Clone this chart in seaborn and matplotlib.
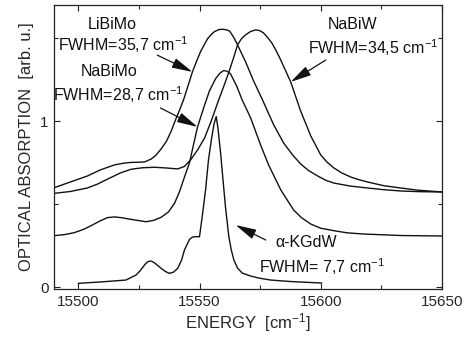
import matplotlib
matplotlib.use("Agg")
import matplotlib.pyplot as plt
import seaborn as sns
import pandas as pd
from matplotlib.ticker import MultipleLocator, FixedLocator

# ---- data ----
libimo_x = [15490.1, 15496.7, 15503.7, 15509.1, 15514.9, 15518.5, 15521.5, 15524.5, 15527.3,
            15530.0, 15532.0, 15534.0, 15536.4, 15538.3, 15540.1, 15541.8, 15543.4, 15545.3,
            15547.1, 15548.8, 15550.4, 15552.0, 15553.3, 15555.0, 15556.2, 15558.0, 15559.5,
            15561.0, 15562.4, 15564.0, 15565.7, 15567.3, 15569.0, 15572.3, 15576.0, 15580.6,
            15584.7, 15588.4, 15591.7, 15595.0, 15598.8, 15602.0, 15605.4, 15612.0, 15619.4,
            15626.0, 15633.1, 15641.0, 15650.4]
libimo_y = [0.600, 0.634, 0.670, 0.707, 0.737, 0.747, 0.752, 0.753, 0.755,
            0.772, 0.795, 0.830, 0.880, 0.940, 1.008, 1.068, 1.128, 1.215,
            1.298, 1.362, 1.418, 1.462, 1.496, 1.525, 1.540, 1.552, 1.554,
            1.551, 1.543, 1.508, 1.460, 1.410, 1.358, 1.243, 1.128, 0.978,
            0.869, 0.797, 0.743, 0.703, 0.670, 0.645, 0.628, 0.610, 0.598,
            0.588, 0.580, 0.576, 0.574]

nabiw_x = [15490.1, 15496.7, 15503.7, 15508.0, 15512.0, 15517.4, 15521.8, 15526.5, 15531.4,
           15536.0, 15541.0, 15543.8, 15546.3, 15549.2, 15552.1, 15555.0, 15557.9, 15560.0,
           15562.0, 15564.0, 15565.7, 15567.3, 15569.0, 15571.0, 15573.1, 15574.8, 15576.4,
           15578.0, 15579.8, 15581.6, 15583.5, 15587.6, 15591.7, 15595.9, 15600.0, 15602.5,
           15605.4, 15608.5, 15612.4, 15616.0, 15619.4, 15626.0, 15633.1, 15640.0, 15650.4]
nabiw_y = [0.566, 0.577, 0.598, 0.622, 0.651, 0.689, 0.711, 0.720, 0.723,
           0.719, 0.713, 0.728, 0.767, 0.827, 0.899, 1.008, 1.128, 1.210,
           1.291, 1.380, 1.460, 1.497, 1.520, 1.540, 1.550, 1.546, 1.532,
           1.506, 1.472, 1.425, 1.369, 1.237, 1.062, 0.911, 0.797, 0.755,
           0.719, 0.690, 0.664, 0.647, 0.634, 0.612, 0.598, 0.585, 0.574]

nabimo_x = [15490.1, 15494.5, 15498.3, 15502.0, 15505.0, 15509.0, 15512.1, 15515.0, 15518.0,
            15521.0, 15523.6, 15528.0, 15531.0, 15534.2, 15537.2, 15539.7, 15541.7, 15543.8,
            15545.9, 15547.5, 15549.2, 15551.7, 15554.1, 15556.6, 15558.3, 15559.9, 15561.3,
            15562.8, 15565.3, 15567.6, 15571.1, 15575.2, 15578.5, 15583.5, 15588.8, 15592.0,
            15595.9, 15600.0, 15606.2, 15611.0, 15617.8, 15633.1, 15650.4]
nabimo_y = [0.311, 0.318, 0.329, 0.348, 0.369, 0.400, 0.420, 0.424, 0.419,
            0.411, 0.405, 0.395, 0.403, 0.422, 0.454, 0.506, 0.574, 0.664,
            0.751, 0.857, 0.966, 1.080, 1.183, 1.255, 1.288, 1.305, 1.302,
            1.285, 1.213, 1.128, 1.020, 0.857, 0.737, 0.587, 0.466, 0.420,
            0.381, 0.356, 0.339, 0.328, 0.321, 0.312, 0.309]

kgdw_x = [15500.0, 15510.7, 15519.7, 15523.8, 15525.6, 15527.3, 15528.3, 15529.3, 15530.3,
          15531.4, 15534.2, 15536.0, 15537.6, 15539.3, 15541.0, 15542.6, 15543.8, 15545.9,
          15547.1, 15548.6, 15550.0, 15551.2, 15552.5, 15553.7, 15555.0, 15556.0, 15556.9,
          15557.6, 15558.7, 15559.7, 15560.7, 15562.1, 15563.1, 15564.2, 15565.7, 15567.6,
          15571.1, 15574.4, 15579.3, 15587.6, 15600.4]
kgdw_y = [0.024, 0.034, 0.044, 0.074, 0.101, 0.134, 0.150, 0.158, 0.157,
          0.148, 0.114, 0.095, 0.084, 0.092, 0.114, 0.164, 0.225, 0.289,
          0.303, 0.305, 0.305, 0.435, 0.586, 0.767, 0.899, 0.984, 1.028,
          0.960, 0.809, 0.646, 0.486, 0.305, 0.225, 0.164, 0.116, 0.086,
          0.068, 0.056, 0.044, 0.035, 0.026]

x_ticks = [15500, 15550, 15600, 15650]
y_ticks = [0, 1]

# ---- styling ----
sns.set_theme(style="ticks")
plt.rcParams['font.family'] = ['Liberation Sans', 'DejaVu Sans']
plt.rcParams['mathtext.default'] = 'regular'

fig = plt.figure(figsize=(4.73, 3.39), dpi=100)
ax = fig.add_axes([54/473, 1-289/339, (442-54)/473, (289-5)/339])

line_kw = dict(color='#111111', linewidth=1.0, ax=ax, legend=False, sort=False)
for xs, ys in [(libimo_x, libimo_y), (nabiw_x, nabiw_y), (nabimo_x, nabimo_y), (kgdw_x, kgdw_y)]:
    df = pd.DataFrame({'x': xs, 'y': ys})
    sns.lineplot(data=df, x='x', y='y', **line_kw)

ax.set_xlim(15490, 15650)
ax.set_ylim(-0.01, 1.70)
ax.xaxis.set_major_locator(FixedLocator(x_ticks))
ax.xaxis.set_minor_locator(MultipleLocator(25))
ax.yaxis.set_major_locator(FixedLocator(y_ticks))
ax.yaxis.set_minor_locator(MultipleLocator(0.5))
ax.set_xticklabels([str(t) for t in x_ticks])
ax.set_yticklabels([str(t) for t in y_ticks])
ax.tick_params(which='both', direction='in', top=True, right=True, color='#222222', width=0.8)
ax.tick_params(which='major', length=4.5, labelsize=11, pad=4)
ax.tick_params(which='minor', length=3)
for s in ax.spines.values():
    s.set_visible(True)
    s.set_linewidth(0.9)
    s.set_color('#222222')

ax.set_xlabel("ENERGY  [cm$^{-1}$]", fontsize=12, labelpad=2)
ax.set_ylabel("OPTICAL ABSORPTION  [arb. u.]", fontsize=12, labelpad=4)

tk = dict(fontsize=11.5, ha='center', va='center', color='#111111')
ax.text(15514.0, 1.580, "LiBiMo", **tk)
ax.text(15518.6, 1.460, "FWHM=35,7 cm$^{-1}$", **tk)
ax.text(15512.8, 1.297, "NaBiMo", **tk)
ax.text(15516.5, 1.158, "FWHM=28,7 cm$^{-1}$", **tk)
ax.text(15613.2, 1.580, "NaBiW", **tk)
ax.text(15621.5, 1.442, "FWHM=34,5 cm$^{-1}$", **tk)
ax.text(15593.8, 0.267, "α-KGdW", **tk)
ax.text(15600.4, 0.122, "FWHM= 7,7 cm$^{-1}$", **tk)

ap = dict(arrowstyle='-|>,head_length=0.9,head_width=0.22', color='#111111', lw=0.9,
          mutation_scale=14, shrinkA=0, shrinkB=0)
for (x0, y0), (x1, y1) in [((15532.6, 1.398), (15547.1, 1.297)),
                           ((15533.9, 1.080), (15549.2, 0.966)),
                           ((15602.1, 1.369), (15587.6, 1.237)),
                           ((15577.3, 0.285), (15564.9, 0.375))]:
    ax.annotate("", xy=(x1, y1), xytext=(x0, y0), arrowprops=ap)

fig.savefig("out.png", dpi=100)
